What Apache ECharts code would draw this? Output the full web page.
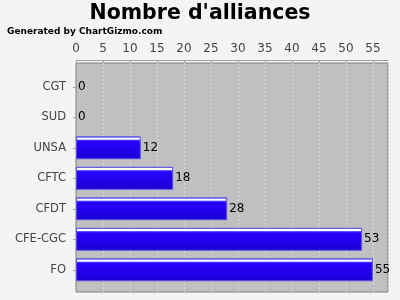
<!DOCTYPE html>
<html>
<head>
<meta charset="utf-8">
<script src="https://cdn.jsdelivr.net/npm/echarts@6/dist/echarts.min.js"></script>
<style>
html,body{margin:0;padding:0;background:#f4f4f4;}
#c{width:400px;height:300px;}
</style>
</head>
<body>
<div id="c"></div>
<script>
var categories = ['CGT', 'SUD', 'UNSA', 'CFTC', 'CFDT', 'CFE-CGC', 'FO'];
var values = [0, 0, 12, 18, 28, 53, 55];
var titleText = "Nombre d'alliances";
var subText = 'Generated by ChartGizmo.com';

var chart = echarts.init(document.getElementById('c'), null, {renderer: 'canvas'});
var font = 'DejaVu Sans';
var barGrad = new echarts.graphic.LinearGradient(0, 0, 0, 1, [
  {offset: 0, color: '#7a7aff'},
  {offset: 0.05, color: '#7a7aff'},
  {offset: 0.07, color: '#ffffff'},
  {offset: 0.13, color: '#ffffff'},
  {offset: 0.16, color: '#5a5aff'},
  {offset: 0.22, color: '#2a00ff'},
  {offset: 1, color: '#1a00d2'}
]);
var barData = values.map(function (v) {
  return {value: v, itemStyle: {borderWidth: v === 0 ? 0 : 1}};
});
chart.setOption({
  backgroundColor: '#f4f4f4',
  animation: false,
  title: [
    {text: titleText, left: 'center', top: 3.5, padding: 0, textStyle: {fontFamily: font, fontSize: 20.5, fontWeight: 'bold', color: '#000'}},
    {text: subText, left: 7, top: 27, padding: 0, textStyle: {fontFamily: font, fontSize: 9, fontWeight: 'bold', color: '#000'}}
  ],
  grid: [
    {left: 76, right: 12, top: 63, bottom: 8, show: true, backgroundColor: '#c0c0c0', borderColor: '#808080', borderWidth: 1},
    {left: 76, right: 12, top: 71.5, bottom: 15}
  ],
  xAxis: [
    {gridIndex: 0, type: 'value', position: 'top', min: 0, max: 57.8, interval: 5, offset: 3,
     axisLine: {show: true, lineStyle: {color: '#a0a0a0'}},
     axisTick: {show: true, inside: true, length: 3, lineStyle: {color: '#a0a0a0'}},
     axisLabel: {show: true, showMaxLabel: false, fontFamily: font, fontSize: 12, color: '#444', margin: 5},
     splitLine: {show: true, lineStyle: {color: '#dcdcdc', type: [2, 2], width: 1}}},
    {gridIndex: 1, type: 'value', min: 0, max: 57.8, show: false}
  ],
  yAxis: [
    {gridIndex: 0, type: 'category', data: categories, inverse: true, offset: 3,
     axisLine: {show: true, lineStyle: {color: '#a0a0a0'}},
     axisTick: {show: false}, axisLabel: {show: false}, splitLine: {show: false}},
    {gridIndex: 1, type: 'category', data: categories, inverse: true, offset: 3,
     axisLine: {show: false},
     axisTick: {show: true, alignWithLabel: true, length: 3, lineStyle: {color: '#a0a0a0'}},
     axisLabel: {fontFamily: font, fontSize: 11.5, color: '#444', margin: 7},
     splitLine: {show: false}}
  ],
  series: [{
    type: 'bar', xAxisIndex: 1, yAxisIndex: 1, data: barData, barWidth: 23,
    itemStyle: {color: barGrad, borderColor: '#5c50e8', borderWidth: 1},
    label: {show: true, position: 'right', distance: 2, fontFamily: font, fontSize: 12, color: '#000'}
  }]
});
</script>
</body>
</html>
